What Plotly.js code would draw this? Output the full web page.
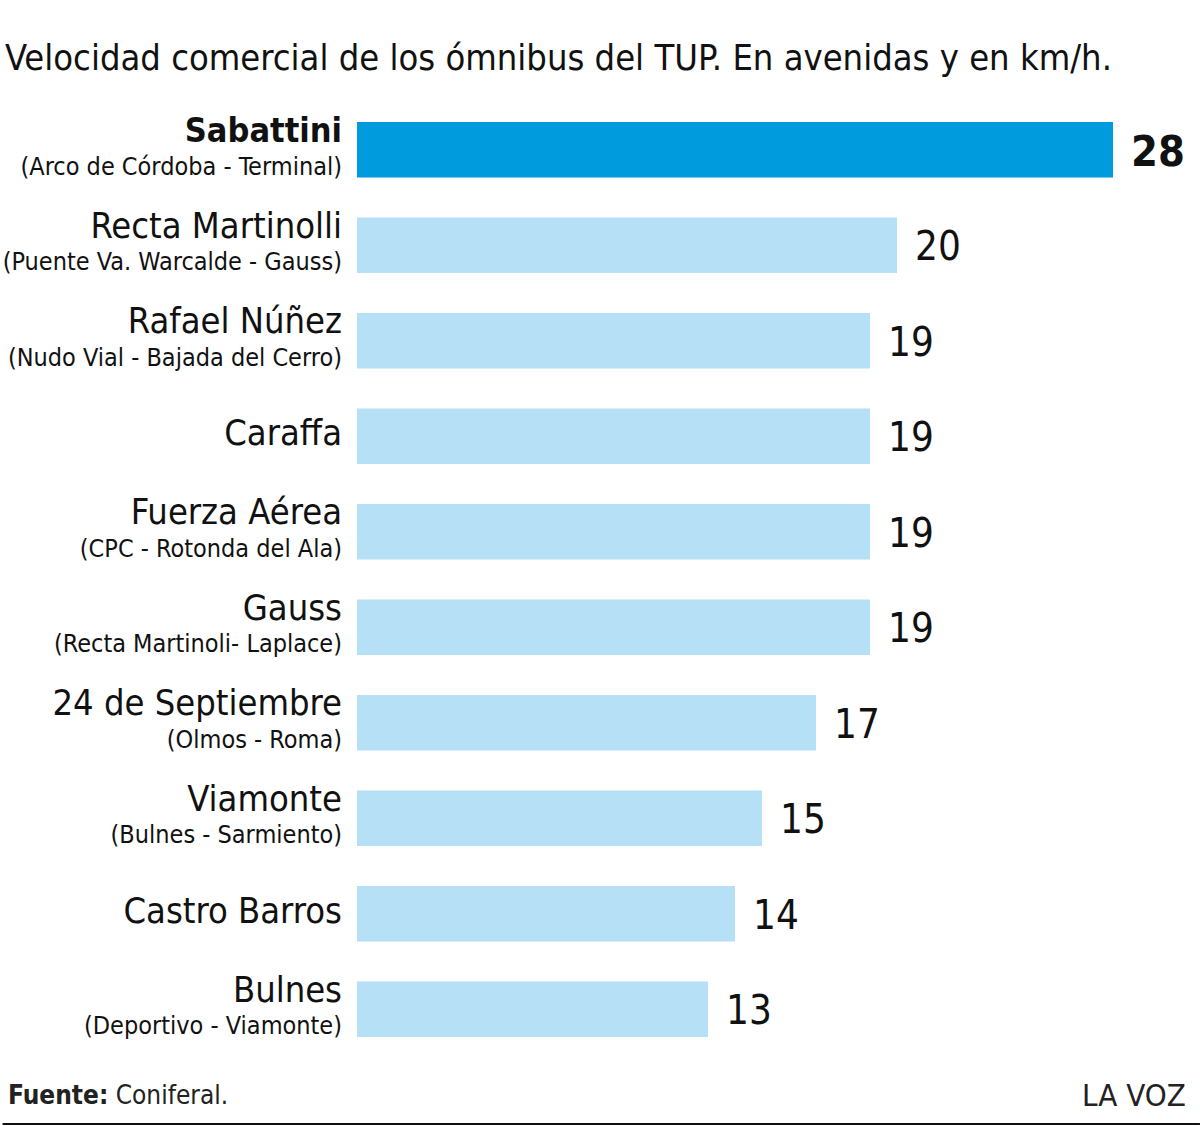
<!DOCTYPE html>
<html>
<head>
<meta charset="utf-8">
<script src="https://cdn.plot.ly/plotly-3.0.1.min.js"></script>
<style>html,body{margin:0;padding:0;background:#fff;}#chart{width:1200px;height:1126px;}</style>
</head>
<body>
<div id="chart"></div>
<script>
const names = ["Sabattini","Recta Martinolli","Rafael Núñez","Caraffa","Fuerza Aérea","Gauss","24 de Septiembre","Viamonte","Castro Barros","Bulnes"];
const sections = ["(Arco de Córdoba - Terminal)","(Puente Va. Warcalde - Gauss)","(Nudo Vial - Bajada del Cerro)","","(CPC - Rotonda del Ala)","(Recta Martinoli- Laplace)","(Olmos - Roma)","(Bulnes - Sarmiento)","","(Deportivo - Viamonte)"];
const speeds = [28,20,19,19,19,19,17,15,14,13];

const FONT = "Liberation Sans Narrow, DejaVu Sans Condensed, Roboto, sans-serif";
const highlight = 0;

const tickText = names.map((n,i)=>{
  const main = i===highlight ? `<span style="font-size:34px"><b>${n}</b></span>` : `<span style="font-size:36px">${n}</span>`;
  return sections[i] ? main + "<br>" + sections[i] : main;
});

const colors = speeds.map((v,i)=> i===highlight ? "#009bdc" : "#b5e0f5");

const trace = {
  type: "bar",
  orientation: "h",
  y: names,
  x: speeds,
  marker: {color: colors, line: {width: 0}},
  hoverinfo: "skip"
};

const annotations = speeds.map((v,i)=>({
  x: v, y: names[i], xref: "x", yref: "y",
  text: i===highlight ? `<b>${v}</b>` : String(v),
  showarrow: false, xanchor: "left", xshift: 16, yshift: -1,
  font: {family: FONT, size: i===highlight ? 43 : 40, color: "#111"}
}));

annotations.push({
  xref: "paper", yref: "paper", x: -357/843, y: -38/955, xanchor: "left", yanchor: "middle",
  xshift: 3,
  text: "<b>Fuente:</b> Coniferal.", showarrow: false,
  font: {family: FONT, size: 26, color: "#222"}
});
annotations.push({
  xref: "paper", yref: "paper", x: 1, y: -38/955, xanchor: "right", yanchor: "middle",
  xshift: -6,
  text: "LA VOZ", showarrow: false,
  font: {family: FONT, size: 31, color: "#222"}
});

const layout = {
  width: 1200, height: 1126,
  margin: {l: 357, r: 6, t: 102, b: 69},
  paper_bgcolor: "#fff", plot_bgcolor: "#fff",
  font: {family: FONT, color: "#111"},
  title: {
    text: "Velocidad comercial de los ómnibus del TUP. En avenidas y en km/h.",
    xref: "container", yref: "container", x: 5/1200, xanchor: "left",
    y: 1 - 57/1126, yanchor: "middle",
    font: {family: FONT, size: 36, color: "#111"}
  },
  xaxis: {range: [0, 31], visible: false, fixedrange: true},
  yaxis: {
    type: "category", autorange: "reversed",
    tickmode: "array", tickvals: names, ticktext: tickText,
    tickfont: {family: FONT, size: 25, color: "#111"},
    ticks: "", showline: false, showgrid: false, zeroline: false,
    ticklabelstandoff: 14
  },
  bargap: 0.42,
  showlegend: false,
  annotations: annotations,
  shapes: [{
    type: "line", xref: "paper", yref: "paper",
    x0: -357/843, x1: 1 + 6/843, y0: -67/955, y1: -67/955,
    line: {color: "#111", width: 2}
  }]
};

Plotly.newPlot("chart", [trace], layout, {displayModeBar: false, staticPlot: true});
</script>
</body>
</html>
